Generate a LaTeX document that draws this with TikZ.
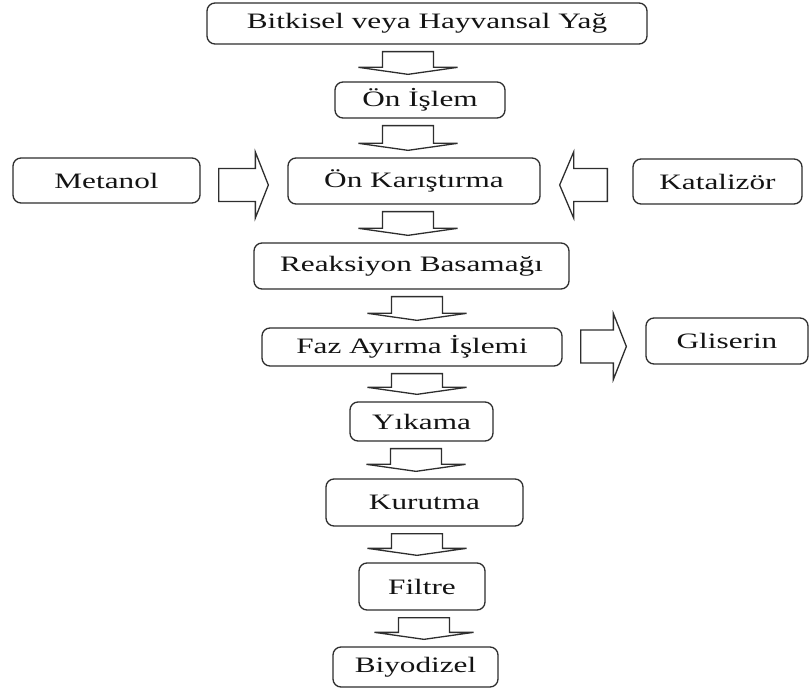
\documentclass[tikz,border=0pt]{standalone}
\usepackage{fontspec}
\setmainfont{Liberation Serif}[FakeStretch=1.42]
\usetikzlibrary{calc}
\newlength{\du}
\setlength{\du}{1pt}
\definecolor{dialinecolor}{rgb}{0.180000, 0.180000, 0.180000}
\tikzset{
  stage/.style={draw=dialinecolor, line width=1.3\du, rounded corners=8\du,
    fill=white, inner sep=0pt, text=black!92,
    font=\fontsize{22}{25}\selectfont},
  blockarrow/.style={draw=dialinecolor, line width=1.3\du, fill=white,
    line join=miter}
}
% block arrow pointing down, at x = #1, from stage #2 to stage #3
\newcommand{\blockdown}[3]{%
  \coordinate (bs) at (#2.south -| #1\du,0);
  \coordinate (be) at (#3.north -| #1\du,0);
  \draw[blockarrow] ($(bs)+(-25.5\du,7\du)$)--($(be)+(-25.5\du,-14\du)$)
    --($(be)+(-49.5\du,-14\du)$)--($(be)+(0\du,-7\du)$)
    --($(be)+(49.5\du,-14\du)$)--($(be)+(25.5\du,-14\du)$)
    --($(bs)+(25.5\du,7\du)$)--cycle;
}
% block arrow pointing right, at y = #1
\newcommand{\blockright}[3]{%
  \coordinate (bs) at (#2.east |- 0,#1\du);
  \coordinate (be) at (#3.west |- 0,#1\du);
  \draw[blockarrow] ($(bs)+(18\du,-16.5\du)$)--($(be)+(-32\du,-16.5\du)$)
    --($(be)+(-32\du,-33\du)$)--($(be)+(-19\du,0\du)$)
    --($(be)+(-32\du,33\du)$)--($(be)+(-32\du,16.5\du)$)
    --($(bs)+(18\du,16.5\du)$)--cycle;
}
% block arrow pointing left, at y = #1
\newcommand{\blockleft}[3]{%
  \coordinate (bs) at (#2.west |- 0,#1\du);
  \coordinate (be) at (#3.east |- 0,#1\du);
  \draw[blockarrow] ($(bs)+(-25\du,-16.5\du)$)--($(be)+(33\du,-16.5\du)$)
    --($(be)+(33\du,-33\du)$)--($(be)+(19\du,0\du)$)
    --($(be)+(33\du,33\du)$)--($(be)+(33\du,16.5\du)$)
    --($(bs)+(-25\du,16.5\du)$)--cycle;
}

\begin{document}
\begin{tikzpicture}
\pgftransformyscale{-1.000000}
\useasboundingbox (0\du,0\du) rectangle (809\du,700\du);
% main line
\node[stage, minimum width=440\du, minimum height=41\du] (yag) at (427\du,23.5\du) {Bitkisel veya Hayvansal Yağ};
\node[stage, minimum width=170\du, minimum height=36\du] (onislem) at (420\du,100\du) {Ön İşlem};
\node[stage, minimum width=252\du, minimum height=46\du] (karis) at (414\du,181\du) {Ön Karıştırma};
\node[stage, minimum width=315\du, minimum height=46\du] (reaksiyon) at (411.5\du,266\du) {Reaksiyon Basamağı};
\node[stage, minimum width=300\du, minimum height=38\du] (faz) at (412\du,347\du) {Faz Ayırma İşlemi};
\node[stage, minimum width=143\du, minimum height=39\du] (yikama) at (421.5\du,421.5\du) {Yıkama};
\node[stage, minimum width=197\du, minimum height=47\du] (kurutma) at (424.5\du,502.5\du) {Kurutma};
\node[stage, minimum width=126\du, minimum height=47\du] (filtre) at (422\du,586.5\du) {Filtre};
\node[stage, minimum width=165\du, minimum height=40\du] (biyodizel) at (415.5\du,667\du) {Biyodizel};
% side inputs and output
\node[stage, minimum width=187\du, minimum height=45\du] (metanol) at (106.5\du,180.5\du) {Metanol};
\node[stage, minimum width=169\du, minimum height=45\du] (katalizor) at (717.5\du,181.5\du) {Katalizör};
\node[stage, minimum width=162\du, minimum height=46\du] (gliserin) at (727\du,341\du) {Gliserin};
% arrows
\blockdown{408}{yag}{onislem}
\blockdown{408}{onislem}{karis}
\blockdown{408}{karis}{reaksiyon}
\blockdown{417}{reaksiyon}{faz}
\blockdown{417}{faz}{yikama}
\blockdown{416}{yikama}{kurutma}
\blockdown{417}{kurutma}{filtre}
\blockdown{424}{filtre}{biyodizel}
\blockright{185}{metanol}{karis}
\blockleft{185}{katalizor}{karis}
\blockright{346.5}{faz}{gliserin}
\end{tikzpicture}
\end{document}
